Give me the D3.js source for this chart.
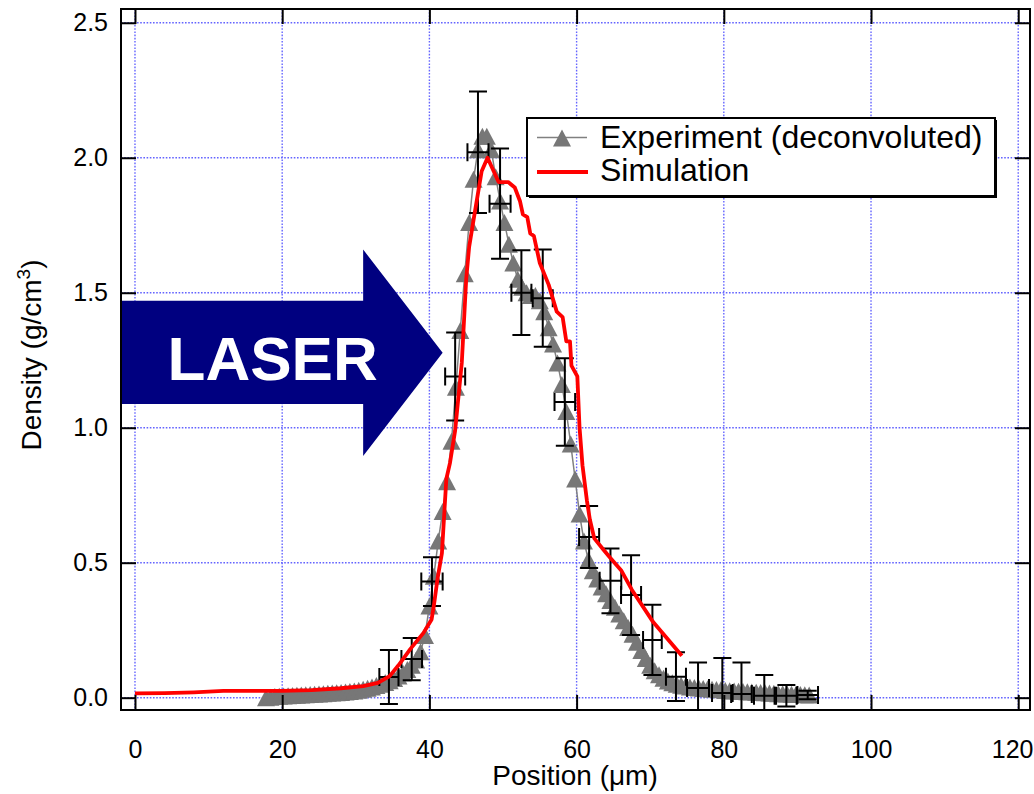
<!DOCTYPE html>
<html>
<head>
<meta charset="utf-8">
<script src="https://cdn.jsdelivr.net/npm/d3@7"></script>
<style>
  body { margin: 0; background: #fff; }
  svg text { font-family: "Liberation Sans", Arial, sans-serif; }
</style>
</head>
<body>
<div id="chart"></div>
<script>
// experiment (deconvoluted) profile, position in um / density in g/cm3
var exp_x = [17.8, 18.4, 19.0, 19.6, 20.2, 20.8, 21.4, 22.0, 22.6, 23.2, 23.8, 24.4, 25.0, 25.6, 26.2, 26.8,
    27.4, 28.0, 28.6, 29.2, 29.8, 30.4, 31.0, 31.6, 32.2, 32.8, 33.4, 34.0, 34.6, 35.2, 35.8, 36.4,
    37.0, 37.6, 38.2, 38.8, 39.4, 40.0, 40.6, 41.2, 41.8, 42.4, 43.0, 43.6, 44.2, 44.8, 45.4, 46.0,
    46.6, 47.2, 47.8, 48.4, 49.0, 49.6, 50.2, 50.8, 51.4, 52.0, 52.6, 53.2, 53.8, 54.4, 55.0, 55.6,
    56.2, 56.8, 57.4, 58.0, 58.6, 59.2, 59.8, 60.4, 61.0, 61.6, 62.2, 62.8, 63.4, 64.0, 64.6, 65.2,
    65.8, 66.4, 67.0, 67.6, 68.2, 68.8, 69.4, 70.0, 70.6, 71.2, 71.8, 72.4, 73.0, 73.6, 74.2, 74.8,
    75.4, 76.0, 76.6, 77.2, 77.8, 78.4, 79.0, 79.6, 80.2, 80.8, 81.4, 82.0, 82.6, 83.2, 83.8, 84.4,
    85.0, 85.6, 86.2, 86.8, 87.4, 88.0, 88.6, 89.2, 89.8, 90.4, 91.0, 91.6]
var exp_y = [0.000, 0.002, 0.004, 0.005, 0.006, 0.007, 0.008, 0.009, 0.010, 0.011, 0.012, 0.013, 0.014, 0.015, 0.016, 0.017,
    0.018, 0.019, 0.021, 0.023, 0.025, 0.028, 0.031, 0.035, 0.040, 0.045, 0.050, 0.056, 0.063, 0.071, 0.080, 0.091,
    0.104, 0.12, 0.14, 0.17, 0.23, 0.34, 0.45, 0.58, 0.69, 0.80, 0.95, 1.15, 1.36, 1.57, 1.76, 1.92,
    2.03, 2.08, 2.08, 2.03, 1.93, 1.84, 1.76, 1.68, 1.61, 1.55, 1.52, 1.50, 1.49, 1.49, 1.47, 1.43,
    1.37, 1.31, 1.24, 1.16, 1.06, 0.94, 0.81, 0.68, 0.58, 0.51, 0.47, 0.44, 0.41, 0.385, 0.36, 0.335,
    0.31, 0.285, 0.26, 0.235, 0.205, 0.175, 0.145, 0.12, 0.10, 0.085, 0.072, 0.062, 0.055, 0.050, 0.046, 0.043,
    0.040, 0.038, 0.036, 0.034, 0.033, 0.031, 0.030, 0.029, 0.027, 0.026, 0.025, 0.024, 0.023, 0.022, 0.021, 0.020,
    0.019, 0.018, 0.017, 0.016, 0.015, 0.015, 0.014, 0.013, 0.012, 0.012, 0.011, 0.010]

// error bars on selected experimental points
var err_x = [34.5, 37.6, 40.35, 43.5, 46.6, 49.6, 52.5, 55.4, 58.4, 61.7, 64.6, 67.4, 70.3, 73.5, 76.5, 79.8, 82.4, 85.5, 88.5, 91.4]
var err_y = [0.077, 0.143, 0.43, 1.19, 2.02, 1.83, 1.50, 1.48, 1.095, 0.595, 0.433, 0.38, 0.214, 0.078, 0.036, 0.017, 0.014, 0.007, 0.007, 0.010]
var err_dy = [0.10, 0.078, 0.09, 0.163, 0.225, 0.204, 0.157, 0.18, 0.162, 0.115, 0.12, 0.148, 0.13, 0.09, 0.094, 0.13, 0.116, 0.077, 0.04, 0.016]
var err_dx = [1.3, 1.4, 1.45, 1.36, 1.43, 1.43, 1.36, 1.36, 1.4, 1.36, 1.47, 1.36, 1.27, 1.36, 1.49, 1.4, 1.4, 1.4, 1.4, 1.4]

// simulation
var sim_x = [0, 4, 8, 12, 16, 20, 24, 28, 31, 33, 34.6, 35.8, 37.4, 39.2, 40.3, 40.6, 41.1, 41.7, 42.3, 42.8,
    43.5, 44.4, 45.0, 45.4, 46.0, 47.1, 47.9, 49.4, 50.7, 51.6, 52.3, 52.7, 53.3, 53.7, 54.2, 55.0, 56.2,
    57.3, 58.1, 58.6, 59.1, 59.3, 60.1, 60.4, 60.8, 61.4, 61.8, 62.4, 63.6, 64.5, 66.1, 67.5, 70.4, 74.3]
var sim_y = [0.016, 0.017, 0.020, 0.025, 0.025, 0.025, 0.028, 0.035, 0.043, 0.055, 0.08, 0.12, 0.18, 0.24, 0.29, 0.34, 0.44, 0.535, 0.81, 0.87,
    0.99, 1.24, 1.55, 1.67, 1.77, 1.95, 2.0, 1.91, 1.91, 1.89, 1.84, 1.79, 1.78, 1.72, 1.71, 1.61, 1.53,
    1.43, 1.41, 1.32, 1.32, 1.23, 1.19, 1.0, 0.86, 0.73, 0.66, 0.59, 0.55, 0.52, 0.47, 0.40, 0.28, 0.155]

var x_ticks = [0, 20, 40, 60, 80, 100, 120]
var y_ticks = [0.0, 0.5, 1.0, 1.5, 2.0, 2.5]
var series_names = ["Experiment (deconvoluted)", "Simulation"]

var margin = { top: 9, right: 4, bottom: 84, left: 121 }
const width = 1034, height = 794
const plot_width = width - margin.left - margin.right,
    plot_height = height - margin.top - margin.bottom

var svg = d3.select('#chart')
    .append('svg')
    .attr('width', width)
    .attr('height', height)

var plot = svg.append('g')
    .attr('transform', `translate(${margin.left},${margin.top})`)

var x = d3.scaleLinear().domain([-1.9, 121.6]).range([0, plot_width])
var y = d3.scaleLinear().domain([-0.0456, 2.551]).range([plot_height, 0])

plot.append('clipPath').attr('id', 'clip')
    .append('rect').attr('width', plot_width).attr('height', plot_height)

// grid
var grid = plot.append('g')
    .attr('stroke', '#6464ff')
    .attr('stroke-width', 1.4)
    .attr('stroke-dasharray', '1.6,1.6')
grid.selectAll('.vgrid').data(x_ticks).enter().append('line')
    .attr('x1', function (d) { return x(d) }).attr('x2', function (d) { return x(d) })
    .attr('y1', 0).attr('y2', plot_height)
grid.selectAll('.hgrid').data(y_ticks).enter().append('line')
    .attr('y1', function (d) { return y(d) }).attr('y2', function (d) { return y(d) })
    .attr('x1', 0).attr('x2', plot_width)

// LASER arrow (annotation in data units)
var arrow = [[x.domain()[0], 1.47], [31.0, 1.47], [31.0, 1.66], [41.8, 1.278], [31.0, 0.895], [31.0, 1.088], [x.domain()[0], 1.088]]
plot.append('path')
    .attr('d', d3.line().x(function (d) { return x(d[0]) }).y(function (d) { return y(d[1]) })(arrow) + 'Z')
    .attr('fill', '#000080')
plot.append('text')
    .attr('x', x(18.7)).attr('y', y(1.177))
    .attr('text-anchor', 'middle')
    .style('font-size', '62px').style('font-weight', 'bold')
    .attr('fill', '#fff')
    .text('LASER')

var data_g = plot.append('g').attr('clip-path', 'url(#clip)')

var exp_data = exp_x.map(function (d, i) { return { x: d, y: exp_y[i] } })
var tri = 'M0,-8.5L9,8.5L-9,8.5Z'

data_g.append('path')
    .datum(exp_data)
    .attr('d', d3.line().x(function (d) { return x(d.x) }).y(function (d) { return y(d.y) }))
    .attr('fill', 'none').attr('stroke', '#808080').attr('stroke-width', 1.5)

data_g.selectAll('.tri').data(exp_data).enter().append('path')
    .attr('class', 'tri')
    .attr('d', tri)
    .attr('transform', function (d) { return `translate(${x(d.x)},${y(d.y)})` })
    .attr('fill', '#777777')

// error bars
var err_data = err_x.map(function (d, i) { return { x: d, y: err_y[i], dy: err_dy[i], dx: err_dx[i] } })
var eb = data_g.selectAll('.eb').data(err_data).enter().append('g')
    .attr('stroke', '#000').attr('stroke-width', 2).attr('fill', 'none')
eb.append('path').attr('d', function (d) {
    var cx = x(d.x), cy = y(d.y), t = y(d.y + d.dy), b = y(d.y - d.dy), l = x(d.x - d.dx), r = x(d.x + d.dx)
    return `M${cx},${t}V${b}M${cx - 9},${t}H${cx + 9}M${cx - 9},${b}H${cx + 9}` +
        `M${l},${cy}H${r}M${l},${cy - 9}V${cy + 9}M${r},${cy - 9}V${cy + 9}`
})

// simulation
var sim_data = sim_x.map(function (d, i) { return { x: d, y: sim_y[i] } })
data_g.append('path')
    .datum(sim_data)
    .attr('d', d3.line().x(function (d) { return x(d.x) }).y(function (d) { return y(d.y) }))
    .attr('fill', 'none').attr('stroke', '#ff0000').attr('stroke-width', 3.8)
    .attr('stroke-linejoin', 'round')

// axes
var xAxis = d3.axisBottom(x).tickValues(x_ticks).tickSize(-15).tickPadding(30)
    .tickFormat(d3.format('d'))
var yAxis = d3.axisLeft(y).tickValues(y_ticks).tickSize(-15).tickPadding(13)
    .tickFormat(d3.format('.1f'))
var gx = plot.append('g').attr('transform', `translate(0,${plot_height})`).call(xAxis)
var gy = plot.append('g').call(yAxis)
var gt = plot.append('g').call(d3.axisTop(x).tickValues(x_ticks).tickSize(-15).tickFormat(''))
var gr = plot.append('g').attr('transform', `translate(${plot_width},0)`)
    .call(d3.axisRight(y).tickValues(y_ticks).tickSize(-15).tickFormat(''))
plot.selectAll('.domain').remove()
plot.selectAll('.tick line').attr('stroke', '#000').attr('stroke-width', 2)
plot.selectAll('.tick text').style('font-size', '25px').attr('fill', '#000')
    .style('font-family', '"Liberation Sans", Arial, sans-serif')
// last x label kept inside the page edge
gx.selectAll('.tick text').filter(function (d) { return d === 120 })
    .attr('text-anchor', 'end').attr('x', width - margin.left - 1 - x(120))

plot.append('rect')
    .attr('width', plot_width).attr('height', plot_height)
    .attr('fill', 'none').attr('stroke', '#000').attr('stroke-width', 2)

// axis titles
svg.append('text')
    .attr('x', 575).attr('y', 785)
    .attr('text-anchor', 'middle')
    .style('font-size', '28px')
    .text('Position (\u03bcm)')

var ylab = svg.append('text')
    .attr('transform', 'translate(41,355) rotate(-90)')
    .attr('text-anchor', 'middle')
    .style('font-size', '28px')
ylab.append('tspan').text('Density (g/cm')
ylab.append('tspan').attr('dy', -11).style('font-size', '19px').text('3')
ylab.append('tspan').attr('dy', 11).text(')')

// legend
var leg = svg.append('g').attr('transform', 'translate(527,118)')
leg.append('rect').attr('x', 2).attr('y', 2).attr('width', 468).attr('height', 78).attr('fill', '#000')
leg.append('rect').attr('width', 468).attr('height', 78)
    .attr('fill', '#fff').attr('stroke', '#000').attr('stroke-width', 2)
leg.append('line').attr('x1', 10).attr('x2', 60).attr('y1', 19.5).attr('y2', 19.5)
    .attr('stroke', '#808080').attr('stroke-width', 1.5)
leg.append('path').attr('d', tri).attr('transform', 'translate(35,20)').attr('fill', '#777777')
leg.append('line').attr('x1', 10).attr('x2', 61).attr('y1', 54).attr('y2', 54)
    .attr('stroke', '#ff0000').attr('stroke-width', 3.8)
leg.selectAll('.lt').data(series_names).enter().append('text')
    .attr('x', 73).attr('y', function (d, i) { return 30 + i * 33 })
    .style('font-size', '32px')
    .text(function (d) { return d })
</script>
</body>
</html>
